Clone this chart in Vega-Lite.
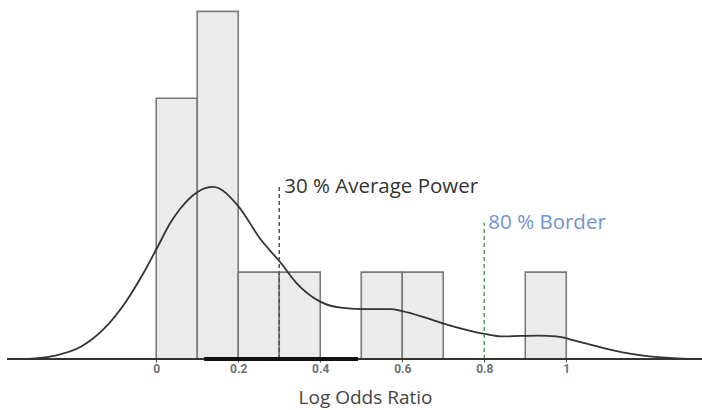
{
  "$schema": "https://vega.github.io/schema/vega-lite/v6.json",
  "width": 702,
  "height": 359,
  "padding": {"left": 0, "top": 0, "right": 0, "bottom": 51},
  "autosize": {"type": "none"},
  "background": "white",
  "config": {"view": {"stroke": null}},
  "datasets": {
    "bars": [
      {"start": 0.0, "end": 0.1, "count": 3},
      {"start": 0.1, "end": 0.2, "count": 4},
      {"start": 0.2, "end": 0.3, "count": 1},
      {"start": 0.3, "end": 0.4, "count": 1},
      {"start": 0.5, "end": 0.6, "count": 1},
      {"start": 0.6, "end": 0.7, "count": 1},
      {"start": 0.9, "end": 1.0, "count": 1}
    ],
    "curve": [
      {"x": -0.315, "d": 0.0},
      {"x": -0.25, "d": 0.035},
      {"x": -0.184, "d": 0.14},
      {"x": -0.129, "d": 0.34},
      {"x": -0.074, "d": 0.66},
      {"x": -0.031, "d": 0.99},
      {"x": 0.0, "d": 1.26},
      {"x": 0.035, "d": 1.57},
      {"x": 0.057, "d": 1.72},
      {"x": 0.1, "d": 1.92},
      {"x": 0.139, "d": 1.98},
      {"x": 0.2, "d": 1.76},
      {"x": 0.254, "d": 1.38},
      {"x": 0.303, "d": 1.11},
      {"x": 0.341, "d": 0.88},
      {"x": 0.4, "d": 0.66},
      {"x": 0.45, "d": 0.59},
      {"x": 0.5, "d": 0.575},
      {"x": 0.571, "d": 0.575},
      {"x": 0.6, "d": 0.55},
      {"x": 0.66, "d": 0.47},
      {"x": 0.713, "d": 0.39},
      {"x": 0.8, "d": 0.29},
      {"x": 0.845, "d": 0.26},
      {"x": 0.932, "d": 0.27},
      {"x": 0.976, "d": 0.26},
      {"x": 1.03, "d": 0.2},
      {"x": 1.096, "d": 0.12},
      {"x": 1.17, "d": 0.05},
      {"x": 1.26, "d": 0.01},
      {"x": 1.315, "d": 0.0}
    ],
    "axisline": [{"x": -0.364, "x2": 1.331, "y": 0}],
    "ci": [{"x": 0.117, "x2": 0.492, "y": 0}],
    "marks": [
      {"x": 0.3, "y": 0, "y2": 1.98, "label": "30 % Average Power", "tx": 0.312, "kind": "avg"},
      {"x": 0.8, "y": 0, "y2": 1.57, "label": "80 % Border", "tx": 0.81, "kind": "border"}
    ]
  },
  "layer": [
    {
      "data": {"name": "bars"},
      "mark": {"type": "rect", "fill": "#ebebeb", "stroke": "#7a7a7a", "strokeWidth": 1.6},
      "encoding": {
        "x": {
          "field": "start", "type": "quantitative",
          "scale": {"domain": [-0.381, 1.331], "nice": false, "zero": false},
          "axis": {
            "values": [0, 0.2, 0.4, 0.6, 0.8, 1],
            "format": "~g",
            "domain": false,
            "grid": false,
            "tickSize": 3,
            "tickColor": "#555",
            "labelFont": "Roboto",
            "labelFontSize": 12,
            "labelFontWeight": "bold",
            "labelColor": "#707070",
            "labelPadding": 1,
            "title": "Log Odds Ratio",
            "titleFont": "Open Sans",
            "titleFontSize": 19,
            "titleFontWeight": "normal",
            "titleColor": "#444",
            "titleX": 365,
            "titleY": 38,
            "titleAlign": "center",
            "titleBaseline": "middle"
          }
        },
        "x2": {"field": "end"},
        "y": {
          "field": "count", "type": "quantitative",
          "scale": {"domain": [0, 4.131], "nice": false},
          "axis": null
        },
        "y2": {"datum": 0}
      }
    },
    {
      "data": {"name": "curve"},
      "mark": {"type": "line", "color": "#333333", "strokeWidth": 1.8, "interpolate": "monotone"},
      "encoding": {
        "x": {"field": "x", "type": "quantitative"},
        "y": {"field": "d", "type": "quantitative"}
      }
    },
    {
      "data": {"name": "marks"},
      "mark": {"type": "rule", "strokeDash": [4, 3], "strokeWidth": 1.5},
      "encoding": {
        "x": {"field": "x", "type": "quantitative"},
        "y": {"field": "y", "type": "quantitative"},
        "y2": {"field": "y2"},
        "color": {
          "field": "kind", "type": "nominal",
          "scale": {"domain": ["avg", "border"], "range": ["#555555", "#5a9a5a"]},
          "legend": null
        }
      }
    },
    {
      "data": {"name": "marks"},
      "mark": {"type": "text", "align": "left", "baseline": "middle", "font": "Open Sans", "fontSize": 20.5},
      "encoding": {
        "x": {"field": "tx", "type": "quantitative"},
        "y": {"field": "y2", "type": "quantitative"},
        "text": {"field": "label"},
        "color": {
          "field": "kind", "type": "nominal",
          "scale": {"domain": ["avg", "border"], "range": ["#333333", "#7092d0"]},
          "legend": null
        }
      }
    },
    {
      "data": {"name": "axisline"},
      "mark": {"type": "rule", "color": "#333333", "strokeWidth": 2},
      "encoding": {
        "x": {"field": "x", "type": "quantitative"},
        "x2": {"field": "x2"},
        "y": {"field": "y", "type": "quantitative"}
      }
    },
    {
      "data": {"name": "ci"},
      "mark": {"type": "rule", "color": "#111111", "strokeWidth": 4},
      "encoding": {
        "x": {"field": "x", "type": "quantitative"},
        "x2": {"field": "x2"},
        "y": {"field": "y", "type": "quantitative"}
      }
    }
  ],
  "resolve": {"scale": {"color": "independent"}}
}
